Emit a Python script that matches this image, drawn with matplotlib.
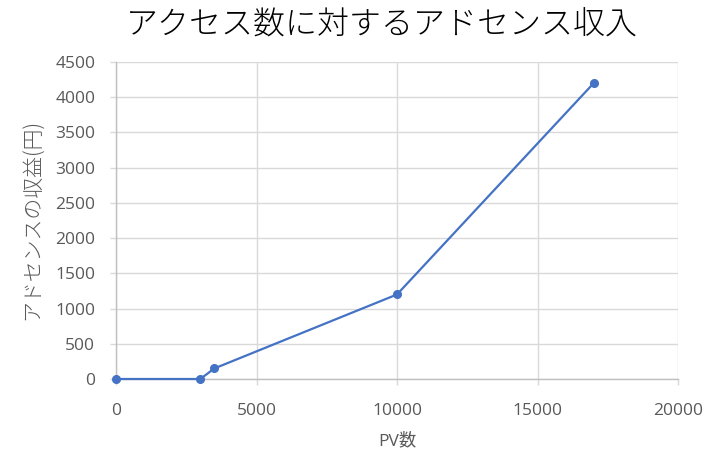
import matplotlib
matplotlib.use("Agg")
import matplotlib.pyplot as plt

plt.rcParams['font.family'] = ['Open Sans', 'Noto Sans CJK JP', 'DejaVu Sans']

pv = [0, 3000, 3500, 10000, 17000]
revenue = [0, 0, 150, 1200, 4200]
x_ticks = [0, 5000, 10000, 15000, 20000]
y_ticks = [0, 500, 1000, 1500, 2000, 2500, 3000, 3500, 4000, 4500]
title = "アクセス数に対するアドセンス収入"
xlabel = "PV数"
ylabel = "アドセンスの収益(円)"

W, H = 714, 469
fig = plt.figure(figsize=(W / 100, H / 100), dpi=100)
ax = fig.add_axes([116 / W, (H - 379) / H, (678 - 116) / W, (379 - 62) / H])

ax.plot(pv, revenue, color='#4472C4', linewidth=1.6, marker='o', markersize=5.5, zorder=3, clip_on=False)

ax.set_xlim(0, 20000)
ax.set_ylim(0, 4500)
ax.set_xticks(x_ticks)
ax.set_yticks(y_ticks)
ax.grid(True, color='#D9D9D9', linewidth=1)
ax.set_axisbelow(True)
for s in ['top', 'right']:
    ax.spines[s].set_visible(False)
for s in ['left', 'bottom']:
    ax.spines[s].set_color('#BFBFBF')
    ax.spines[s].set_linewidth(1)
ax.tick_params(axis='both', direction='out', length=4, width=1, color='#D9D9D9',
               labelsize=12.5, labelcolor='#595959')
ax.tick_params(axis='x', pad=13)
ax.tick_params(axis='y', pad=11)

fig.text(382 / W, 1 - 25 / H, title, ha='center', va='center', fontsize=23,
         color='#000000', family=['Noto Sans CJK JP', 'DejaVu Sans'], fontweight='light')
fig.text(397 / W, 1 - 441 / H, xlabel, ha='center', va='center', fontsize=12.5, color='#595959')
fig.text(33 / W, 1 - 219 / H, ylabel, ha='center', va='center', fontsize=15, color='#595959',
         rotation=90, family=['Noto Sans CJK JP', 'DejaVu Sans'], fontweight='light')

fig.savefig('out.png', dpi=100)
